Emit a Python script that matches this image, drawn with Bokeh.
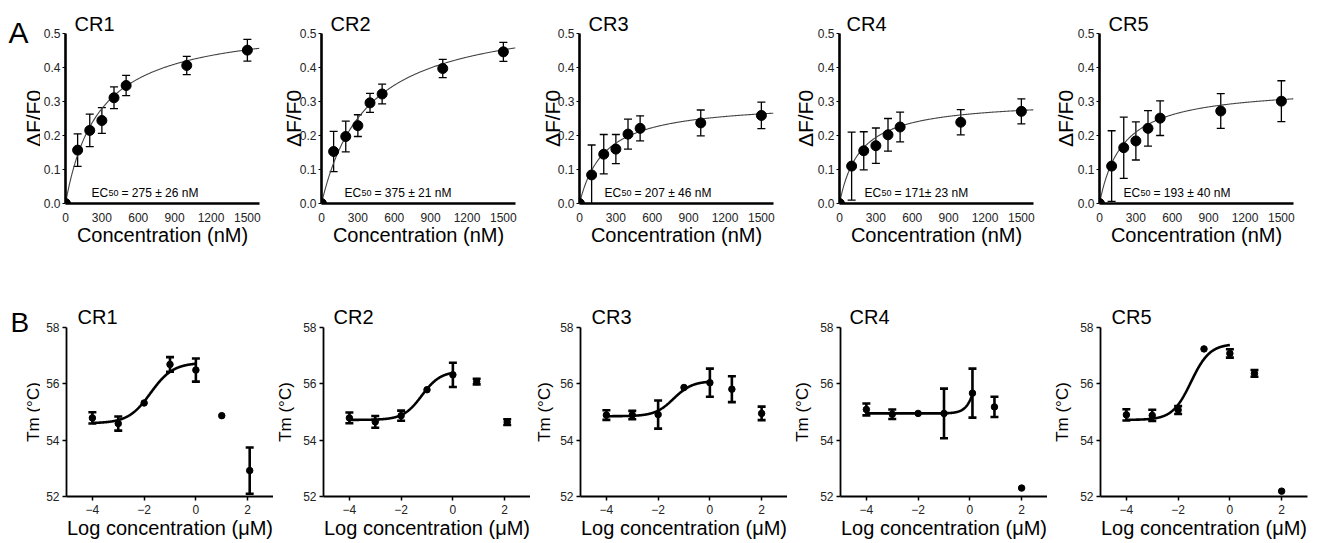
import numpy as np
from bokeh.plotting import figure
from bokeh.models import (Range1d, FixedTicker, PrintfTickFormatter, Label,
                          Whisker, TeeHead, ColumnDataSource)
from bokeh.layouts import row, column
from bokeh.embed import file_html
from bokeh.resources import INLINE

# ---------------- Panel A data ----------------
panel_names = ["CR1", "CR2", "CR3", "CR4", "CR5"]
conc_nM = [0, 100, 200, 300, 400, 500, 1000, 1500]

a_cr1_mean = [0, 0.157, 0.215, 0.244, 0.311, 0.347, 0.406, 0.451]
a_cr1_err = [0, 0.048, 0.048, 0.038, 0.032, 0.030, 0.027, 0.032]
a_cr2_mean = [0, 0.153, 0.197, 0.229, 0.296, 0.322, 0.397, 0.446]
a_cr2_err = [0, 0.059, 0.045, 0.032, 0.028, 0.029, 0.027, 0.028]
a_cr3_mean = [0, 0.084, 0.145, 0.160, 0.204, 0.221, 0.237, 0.259]
a_cr3_err = [0, 0.088, 0.058, 0.043, 0.044, 0.037, 0.038, 0.039]
a_cr4_mean = [0, 0.110, 0.155, 0.170, 0.202, 0.225, 0.239, 0.271]
a_cr4_err = [0, 0.100, 0.056, 0.052, 0.048, 0.044, 0.037, 0.037]
a_cr5_mean = [0, 0.110, 0.164, 0.184, 0.221, 0.251, 0.272, 0.301]
a_cr5_err = [0, 0.104, 0.090, 0.056, 0.052, 0.051, 0.051, 0.060]

ec50_nM = [275, 375, 207, 171, 193]
ec50_sem = [26, 21, 46, 23, 40]
ec50_sep = [" ± ", " ± ", " ± ", "± ", " ± "]
bmax = [0.535, 0.565, 0.30, 0.305, 0.345]

a_x_ticks = [0, 300, 600, 900, 1200, 1500]
a_y_ticks = [0.0, 0.1, 0.2, 0.3, 0.4, 0.5]

# ---------------- Panel B data ----------------
b_cr1_x = [-4, -3, -2, -1, 0, 1, 2.08]
b_cr1_tm = [54.79, 54.59, 55.32, 56.69, 56.49, 54.87, 52.92]
b_cr1_err = [0.20, 0.25, 0, 0.26, 0.41, 0, 0.82]
b_cr2_x = [-4, -3, -2, -1, 0, 0.92, 2.1]
b_cr2_tm = [54.79, 54.65, 54.87, 55.79, 56.32, 56.08, 54.64]
b_cr2_err = [0.19, 0.21, 0.18, 0, 0.43, 0.10, 0.10]
b_cr3_x = [-4, -3, -2, -1, 0, 0.85, 2]
b_cr3_tm = [54.89, 54.89, 54.91, 55.87, 56.04, 55.81, 54.95]
b_cr3_err = [0.17, 0.15, 0.50, 0, 0.50, 0.46, 0.24]
b_cr4_x = [-4, -3, -2, -1, 0.1, 0.95, 2]
b_cr4_tm = [55.09, 54.92, 54.95, 54.95, 55.67, 55.18, 52.30]
b_cr4_err = [0.21, 0.17, 0, 0.88, 0.87, 0.36, 0]
b_cr5_x = [-4, -3, -2, -1, 0, 0.95, 2]
b_cr5_tm = [54.90, 54.88, 55.07, 57.24, 57.08, 56.37, 52.19]
b_cr5_err = [0.20, 0.20, 0.14, 0, 0.15, 0.12, 0]

# sigmoid fit parameters: bottom, top, logEC50, hill, last fitted x
fit_bottom = [54.60, 54.72, 54.85, 54.95, 54.72]
fit_top = [56.75, 56.45, 56.10, 60.0, 57.42]
fit_logec = [-1.75, -1.2, -1.4, 0.5, -1.5]
fit_hill = [1.0, 1.2, 1.2, 2.0, 1.2]
fit_xend = [0, 0, 0, 0.1, 0]

b_x_ticks = [-4, -2, 0, 2]
b_y_ticks = [52, 54, 56, 58]

a_means = [a_cr1_mean, a_cr2_mean, a_cr3_mean, a_cr4_mean, a_cr5_mean]
a_errs = [a_cr1_err, a_cr2_err, a_cr3_err, a_cr4_err, a_cr5_err]
b_xs = [b_cr1_x, b_cr2_x, b_cr3_x, b_cr4_x, b_cr5_x]
b_tms = [b_cr1_tm, b_cr2_tm, b_cr3_tm, b_cr4_tm, b_cr5_tm]
b_errs = [b_cr1_err, b_cr2_err, b_cr3_err, b_cr4_err, b_cr5_err]

# ---------------- layout / style ----------------
MAIN = "Liberation Sans"

STRIP_W = 40
TOP_H, BOT_H = 253, 283
a_border_left = [25, 57, 57, 57, 57]
a_border_right = [5, 7, 9, 9, 18]
a_ylab_standoff = [6, -8, -9, -2, -2]
a_title_off = [9, 9, 9, 7, 9]
a_ec_off = [26, 23, 25, 25, 24]

b_border_left = [26, 49, 50, 53, 53]
b_border_right = [0, 0, 0, 0, 8]
b_ylab_standoff = [8, 5, 3, 5, 5]
b_title_off = [11, 10, 11, 9, 11]


def lab(p, text, x, y, size, font=MAIN, align="left", baseline="alphabetic",
        angle=0.0, units="screen"):
    p.add_layout(Label(x=x, y=y, x_units=units, y_units=units, text=text,
                       text_font=font, text_font_size=f"{size}px", text_align=align,
                       text_baseline=baseline, angle=angle, text_color="black"))


def strip(w, h):
    # a plain text panel: its frame fills it and its data units are its pixels
    s = figure(width=w, height=h, x_range=Range1d(0, w), y_range=Range1d(h, 0),
               min_border=0, min_border_left=0, min_border_right=0, min_border_top=0,
               min_border_bottom=0, x_axis_location=None, y_axis_location=None,
               output_backend="svg", toolbar_location=None)
    s.outline_line_color = None
    s.grid.visible = False
    s.background_fill_color = "white"
    s.border_fill_color = "white"
    return s


def base_fig(fw, fh, xr, yr, bl, br, bt, bb, title, toff, tstand):
    p = figure(frame_width=fw, frame_height=fh, x_range=xr, y_range=yr,
               min_border_left=bl, min_border_right=br, min_border_top=bt,
               min_border_bottom=bb, output_backend="svg", toolbar_location=None,
               title=title)
    p.outline_line_color = None
    p.xgrid.visible = False
    p.ygrid.visible = False
    p.background_fill_color = "white"
    p.border_fill_color = "white"
    p.title.text_font = MAIN
    p.title.text_font_size = "20px"
    p.title.text_font_style = "normal"
    p.title.text_color = "black"
    p.title.align = "left"
    p.title.offset = toff
    p.title.standoff = tstand
    return p


def style_axes(p, line_w, font_size):
    for ax in (p.xaxis[0], p.yaxis[0]):
        ax.axis_line_width = line_w
        ax.axis_line_color = "black"
        ax.major_tick_line_color = "black"
        ax.minor_tick_line_color = None
        ax.major_label_text_font = MAIN
        ax.major_label_text_font_size = font_size
        ax.major_label_text_color = "#222"
        ax.axis_label_text_font = MAIN
        ax.axis_label_text_font_style = "normal"
        ax.axis_label_text_color = "black"


# text panels holding the letters and the first y-axis titles
a_strip = strip(STRIP_W, TOP_H)
lab(a_strip, "A", 8, 32, 30, units="data")
lab(a_strip, "ΔF/F0", 33, 118, 21, angle=np.pi / 2, align="center", units="data")

b_strip = strip(STRIP_W, BOT_H)
lab(b_strip, "B", 10, 69, 28, units="data")
lab(b_strip, "Tm (°C)", 33, 158.5, 17, angle=np.pi / 2, align="center", units="data")

top_figs = []
for i, name in enumerate(panel_names):
    FW, FH = 194, 170
    p = base_fig(FW, FH, Range1d(0, 1600), Range1d(0, 0.5), a_border_left[i],
                 a_border_right[i], 33, 50, name, a_title_off[i], -3)
    style_axes(p, 2.6, "12px")
    p.xaxis.ticker = FixedTicker(ticks=a_x_ticks)
    p.yaxis.ticker = FixedTicker(ticks=a_y_ticks)
    p.yaxis.formatter = PrintfTickFormatter(format="%.1f")
    p.xaxis.major_tick_out = 0
    p.xaxis.major_tick_in = 0
    p.xaxis.major_label_standoff = 9
    p.yaxis.major_tick_out = 3
    p.yaxis.major_tick_in = 0
    p.yaxis.major_tick_line_width = 1.2
    p.yaxis.major_label_standoff = 2
    if i > 0:
        p.yaxis.axis_label = "ΔF/F0"
        p.yaxis.axis_label_text_font_size = "21px"
        p.yaxis.axis_label_standoff = a_ylab_standoff[i]
    p.xaxis.axis_label = "Concentration (nM)"
    p.xaxis.axis_label_text_font_size = "20px"
    p.xaxis.axis_label_standoff = -1

    mean = np.array(a_means[i])
    err = np.array(a_errs[i])
    x = np.array(conc_nM, dtype=float)

    # one-site binding fit curve from the fitted parameters
    xf = np.linspace(0, 1600, 300)
    yf = bmax[i] * xf / (ec50_nM[i] + xf)
    p.line(xf, yf, line_color="#444444", line_width=1.1)

    m = err > 0
    src = ColumnDataSource(dict(x=x[m], upper=(mean + err)[m], lower=(mean - err)[m]))
    p.add_layout(Whisker(source=src, base="x", upper="upper", lower="lower",
                         line_color="black", line_width=1.3,
                         upper_head=TeeHead(size=8, line_width=1.3, line_color="black"),
                         lower_head=TeeHead(size=8, line_width=1.3, line_color="black")))
    p.scatter(x, mean, size=10, marker="circle", fill_color="black", line_color="black")

    x0 = a_ec_off[i]
    lab(p, "EC", x0, 11, 12)
    lab(p, "50", x0 + 17, 11, 9)
    lab(p, f"= {ec50_nM[i]}{ec50_sep[i]}{ec50_sem[i]} nM", x0 + 30, 11, 12)
    top_figs.append(p)

bottom_figs = []
for i, name in enumerate(panel_names):
    FW, FH = 207, 169
    p = base_fig(FW, FH, Range1d(-5, 3), Range1d(52, 58), b_border_left[i],
                 b_border_right[i], 74, 40, name, b_title_off[i], 0)
    style_axes(p, 1.8, "12px")
    for ax in (p.xaxis[0], p.yaxis[0]):
        ax.major_tick_line_width = 1.5
        ax.major_tick_out = 4
        ax.major_tick_in = 0
    p.xaxis.ticker = FixedTicker(ticks=b_x_ticks)
    p.yaxis.ticker = FixedTicker(ticks=b_y_ticks)
    p.xaxis.major_label_standoff = 4
    p.yaxis.major_label_standoff = 3
    if i > 0:
        p.yaxis.axis_label = "Tm (°C)"
        p.yaxis.axis_label_text_font_size = "17px"
        p.yaxis.axis_label_standoff = b_ylab_standoff[i]
    p.xaxis.axis_label = "Log concentration (μM)"
    p.xaxis.axis_label_text_font_size = "20px"
    p.xaxis.axis_label_standoff = 0

    x = np.array(b_xs[i], dtype=float)
    tm = np.array(b_tms[i])
    err = np.array(b_errs[i])

    # sigmoidal dose-response fit from fitted parameters
    xf = np.linspace(-4, fit_xend[i], 300)
    yf = fit_bottom[i] + (fit_top[i] - fit_bottom[i]) / (1 + 10 ** ((fit_logec[i] - xf) * fit_hill[i]))
    p.line(xf, yf, line_color="black", line_width=2.6)

    m = err > 0
    src = ColumnDataSource(dict(x=x[m], upper=(tm + err)[m], lower=(tm - err)[m]))
    p.add_layout(Whisker(source=src, base="x", upper="upper", lower="lower",
                         line_color="black", line_width=2.6,
                         upper_head=TeeHead(size=8, line_width=2.6, line_color="black"),
                         lower_head=TeeHead(size=8, line_width=2.6, line_color="black")))
    p.scatter(x, tm, size=6.5, marker="circle", fill_color="black", line_color="black")
    bottom_figs.append(p)

layout = row(
    column(a_strip, b_strip, spacing=0),
    column(row(*top_figs, spacing=0), row(*bottom_figs, spacing=0), spacing=0),
    spacing=0,
)

open("out.html", "w").write(file_html(layout, INLINE))
